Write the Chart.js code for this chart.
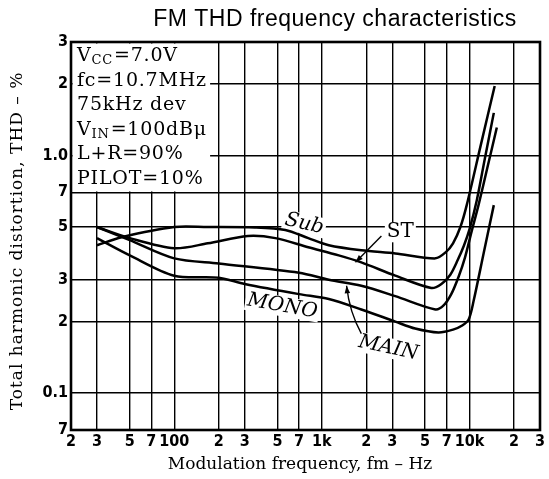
<!DOCTYPE html>
<html><head><meta charset="utf-8">
<script src="https://cdn.jsdelivr.net/npm/chart.js@4/dist/chart.umd.min.js"></script>
<style>html,body{margin:0;padding:0;background:#fff;}canvas{display:block;}</style>
</head><body>
<canvas id="c" width="549" height="479"></canvas>
<script>
// ---- data ----
const xTicks = [20,30,50,70,100,200,300,500,700,1000,2000,3000,5000,7000,10000,20000,30000];
const xTickLabels = ['2','3','5','7','100','2','3','5','7','1k','2','3','5','7','10k','2','3'];
const yTicks = [0.07,0.1,0.2,0.3,0.5,0.7,1,2,3];
const yTickLabels = ['7','0.1','2','3','5','7','1.0','2','3'];

const subFreq  = [30,44,100,169,352,565,809,1114,1850,3140,5870,6880,7730,8670,9570,11890,14800];
const subThd   = [0.419,0.453,0.5,0.5,0.498,0.486,0.449,0.419,0.399,0.387,0.369,0.391,0.427,0.5,0.618,1.10,1.96];

const stFreq   = [30,50,100,169,315,484,809,1300,1850,3140,5510,6450,7410,8300,9180,10000,11200,12700,14600];
const stThd    = [0.5,0.449,0.407,0.427,0.458,0.449,0.411,0.38,0.355,0.312,0.277,0.288,0.315,0.362,0.419,0.49,0.648,0.971,1.51];

const mainFreq = [30,50,100,200,700,1114,1850,3140,5870,6670,7520,8430,9310,10300,11500,13270,15300];
const mainThd  = [0.5,0.44,0.369,0.351,0.321,0.3,0.283,0.256,0.225,0.234,0.261,0.309,0.372,0.476,0.618,0.90,1.31];

const monoFreq = [30,50,100,200,300,700,1114,1850,3140,4280,6150,7730,8920,9860,10650,12470,14600];
const monoThd  = [0.449,0.38,0.312,0.306,0.288,0.261,0.249,0.225,0.2,0.187,0.18,0.185,0.1925,0.204,0.244,0.389,0.618];

const conditions = [
  ['V','CC','=7.0V'],
  ['fc=10.7MHz'],
  ['75kHz dev'],
  ['V','IN','=100dB\u03bc'],
  ['L+R=90%'],
  ['PILOT=10%']
];
const chartTitle = 'FM THD frequency characteristics';
const xTitle = 'Modulation frequency, fm \u2013 Hz';
const yTitle = 'Total harmonic distortion, THD \u2013 %';

// curve labels: text, anchor frequency, anchor THD, rotation (deg), italic
const curveLabels = [
  ['Sub', 760, 0.515, 13, true],
  ['ST', 3400, 0.475, 0, false],
  ['MONO', 540, 0.232, 10, true],
  ['MAIN', 2820, 0.155, 12, true]
];

// ---- build ----
const pts = (f, v) => f.map((q, i) => ({x: q, y: v[i]}));
const ds = (label, f, v) => ({label, data: pts(f, v), borderColor: '#000', borderWidth: 2.5,
  pointRadius: 0, fill: false, tension: 0.3});

const SERIF = "'DejaVu Serif','Liberation Serif',serif";
const SANS = "'Liberation Sans',Arial,sans-serif";
const TICKFONT = {family: "'Liberation Sans Narrow','DejaVu Sans Condensed','Liberation Sans',sans-serif", size: 16, weight: 'bold'};

function eachLabel(chart, fn) {
  const {ctx, scales: {x, y}} = chart;
  curveLabels.forEach(([t, f, v, rot, it]) => {
    ctx.save();
    ctx.translate(x.getPixelForValue(f), y.getPixelForValue(v));
    ctx.rotate(rot * Math.PI / 180);
    ctx.font = (it ? 'italic ' : '') + '20px ' + SERIF;
    ctx.textAlign = 'center'; ctx.textBaseline = 'middle';
    fn(ctx, t);
    ctx.restore();
  });
}
function arrowHead(ctx, x0, y0, x1, y1) {
  const ang = Math.atan2(y1 - y0, x1 - x0), L = 8;
  ctx.beginPath();
  ctx.moveTo(x1, y1);
  ctx.lineTo(x1 - L * Math.cos(ang - 0.35), y1 - L * Math.sin(ang - 0.35));
  ctx.lineTo(x1 - L * Math.cos(ang + 0.35), y1 - L * Math.sin(ang + 0.35));
  ctx.closePath();
  ctx.fill();
}

const decor = {
  id: 'decor',
  beforeDatasetsDraw(chart) {
    const {ctx, chartArea: a, scales: {x, y}} = chart;
    ctx.save();
    ctx.fillStyle = '#fff';
    const bx = x.getPixelForValue(175), by = y.getPixelForValue(0.7);
    ctx.fillRect(a.left + 1.5, a.top + 1.5, bx - a.left - 1.5, by - a.top - 2.3);
    ctx.lineWidth = 2.6; ctx.strokeStyle = '#000';
    ctx.strokeRect(a.left, a.top, a.right - a.left, a.bottom - a.top);
    // conditions text
    ctx.fillStyle = '#000';
    ctx.textBaseline = 'alphabetic';
    ctx.letterSpacing = '0.8px';
    conditions.forEach((parts, i) => {
      let cx = a.left + 6;
      const base = a.top + 19 + i * 24.5;
      if (parts.length === 3) {
        ctx.font = '19px ' + SERIF; ctx.fillText(parts[0], cx, base); cx += ctx.measureText(parts[0]).width;
        ctx.font = '13px ' + SERIF; ctx.fillText(parts[1], cx, base + 3); cx += ctx.measureText(parts[1]).width + 1;
        ctx.font = '19px ' + SERIF; ctx.fillText(parts[2], cx, base);
      } else {
        ctx.font = '19px ' + SERIF; ctx.fillText(parts[0], cx, base);
      }
    });
    ctx.restore();
    // white backgrounds behind curve labels (hide grid lines)
    eachLabel(chart, (c, t) => {
      const w = c.measureText(t).width;
      c.fillStyle = '#fff';
      c.fillRect(-w / 2 - 2, -10, w + 4, 20);
    });
  },
  afterDatasetsDraw(chart) {
    const {ctx, scales: {x, y}} = chart;
    const X = v => x.getPixelForValue(v), Y = v => y.getPixelForValue(v);
    ctx.save();
    ctx.strokeStyle = '#000'; ctx.fillStyle = '#000'; ctx.lineWidth = 1.4;
    // ST leader
    const s0 = [X(2530), Y(0.458)], s1 = [X(1690), Y(0.355)];
    ctx.beginPath(); ctx.moveTo(s0[0], s0[1]); ctx.lineTo(s1[0], s1[1]); ctx.stroke();
    arrowHead(ctx, s0[0], s0[1], s1[0], s1[1]);
    // MAIN leader
    const m0 = [X(1850), Y(0.178)], m1 = [X(1470), Y(0.283)];
    ctx.beginPath(); ctx.moveTo(m0[0], m0[1]);
    ctx.quadraticCurveTo(m0[0] - 12, m0[1] - 22, m1[0], m1[1]); ctx.stroke();
    arrowHead(ctx, m0[0] - 12, m0[1] - 22, m1[0], m1[1]);
    ctx.restore();
    eachLabel(chart, (c, t) => { c.fillStyle = '#000'; c.fillText(t, 0, 0); });
  },
  afterDraw(chart) {
    const {ctx} = chart;
    ctx.save();
    ctx.fillStyle = '#000';
    ctx.textAlign = 'center'; ctx.textBaseline = 'middle';
    ctx.font = '23px ' + SANS;
    ctx.letterSpacing = '0.5px';
    ctx.fillText(chartTitle, 335, 20);
    ctx.font = '17px ' + SERIF;
    ctx.letterSpacing = '0px';
    ctx.fillText(xTitle, 300, 465);
    ctx.translate(18, 241); ctx.rotate(-Math.PI / 2);
    ctx.letterSpacing = '1px';
    ctx.fillText(yTitle, 0, 0);
    ctx.restore();
  }
};

new Chart(document.getElementById('c'), {
  type: 'line',
  data: {datasets: [ds('Sub', subFreq, subThd), ds('ST', stFreq, stThd), ds('MAIN', mainFreq, mainThd), ds('MONO', monoFreq, monoThd)]},
  options: {
    responsive: false, animation: false, devicePixelRatio: 1,
    layout: {padding: {top: 42, right: 9, left: 0, bottom: 0}},
    plugins: {legend: {display: false}, tooltip: {enabled: false}, title: {display: false}},
    scales: {
      x: {type: 'logarithmic', min: 20, max: 30000,
        afterBuildTicks: s => { s.ticks = xTicks.map(v => ({value: v})); },
        afterFit: s => { s.height = 49; },
        ticks: {autoSkip: false, maxRotation: 0, padding: 2, color: '#000', font: TICKFONT,
          callback: (v, i) => xTickLabels[i]},
        grid: {color: '#000', lineWidth: 1.4, drawTicks: false},
        border: {display: false}},
      y: {type: 'logarithmic', min: 0.07, max: 3,
        afterBuildTicks: s => { s.ticks = yTicks.map(v => ({value: v})); },
        afterFit: s => { s.width = 71; },
        ticks: {autoSkip: false, padding: 3, color: '#000', font: TICKFONT,
          callback: (v, i) => yTickLabels[i]},
        grid: {color: '#000', lineWidth: 1.4, drawTicks: false},
        border: {display: false}}
    }
  },
  plugins: [decor]
});
</script>
</body></html>
